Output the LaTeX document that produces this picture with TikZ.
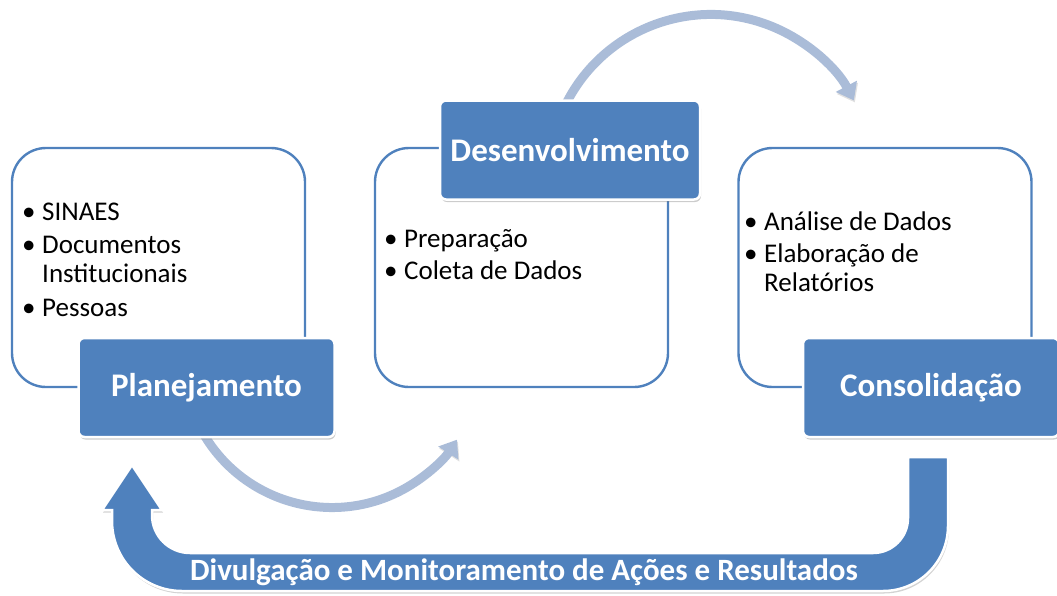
\documentclass[tikz,border=0pt]{standalone}
\usepackage{fontspec}
\setmainfont{Carlito}
\usetikzlibrary{arrows.meta,shadows}
\definecolor{officeblue}{HTML}{4F81BD}
\definecolor{arcblue}{HTML}{AABCD8}
\newcommand\blt{\makebox[20pt][l]{\textbullet}}
\newcommand\ind{\hspace*{20pt}}

\begin{document}
\begin{tikzpicture}[x=1pt,y=-1pt,
    itembox/.style={rectangle,rounded corners=34pt,draw=officeblue,line width=2.4pt,
      minimum width=293pt,minimum height=239pt},
    itemlist/.style={anchor=north west,inner sep=0pt,align=left,
      font=\fontsize{27}{29}\selectfont},
    phasebox/.style={rectangle,rounded corners=6pt,fill=officeblue,draw=white,line width=2.5pt,
      minimum width=256pt,minimum height=99pt,text=white,font=\fontsize{33}{36}\selectfont\bfseries,
      drop shadow={shadow xshift=1pt,shadow yshift=-2.5pt,opacity=.4}},
    cyclearc/.style={draw=arcblue,line width=9pt,-{Triangle[length=16pt,width=23pt]},
      preaction={draw=black,opacity=.12,transform canvas={xshift=1pt,yshift=-2pt}}}]
    \useasboundingbox (0,0) rectangle (1057,595);

    % arcs between the phases
    \coordinate (devarc) at (564,108);
    \coordinate (planarc) at (203,433);
    \draw[cyclearc] (devarc) arc[start angle=205,end angle=332,radius=162];
    \draw[cyclearc] (planarc) arc[start angle=150,end angle=33,radius=149];

    % return arrow
    \coordinate (consfoot) at (948,457);
    \filldraw[fill=officeblue,draw=white,line width=2.5pt,
      drop shadow={shadow xshift=1pt,shadow yshift=-2.5pt,opacity=.35}]
      (consfoot) -- (948,526) arc[start angle=0,end angle=90,radius=65]
      -- (182,591) arc[start angle=90,end angle=180,radius=70]
      -- (112,510) -- (102,510) -- (132,465) -- (162,510) -- (152,510)
      -- (152,515) arc[start angle=180,end angle=90,radius=38]
      -- (873,553) arc[start angle=90,end angle=0,radius=35]
      -- (908,457) -- cycle;
    \node[text=white,font=\fontsize{31}{34}\selectfont\bfseries] (retorno) at (524,572)
      {Divulgação e Monitoramento de Ações e Resultados};

    % content boxes
    \node[itembox] (planbox) at (158.5,267.5) {};
    \node[itembox] (devbox) at (521.5,267.5) {};
    \node[itembox] (consbox) at (885,267.5) {};

    \node[itemlist] (planlist) at (22,203)
      {\blt SINAES\\[4pt] \blt Documentos\\ \ind Institucionais\\[5pt] \blt Pessoas};
    \node[itemlist] (devlist) at (384,229)
      {\blt Preparação\\[3pt] \blt Coleta de Dados};
    \node[itemlist] (conslist) at (744,212)
      {\blt Análise de Dados\\[3pt] \blt Elaboração de\\ \ind Relatórios};

    % phase labels
    \node[phasebox] (plan) at (206.5,387.5) {Planejamento};
    \node[phasebox,minimum width=260pt] (dev) at (570,150) {Desenvolvimento};
    \node[phasebox] (cons) at (931,387.5) {Consolidação};
\end{tikzpicture}
\end{document}
